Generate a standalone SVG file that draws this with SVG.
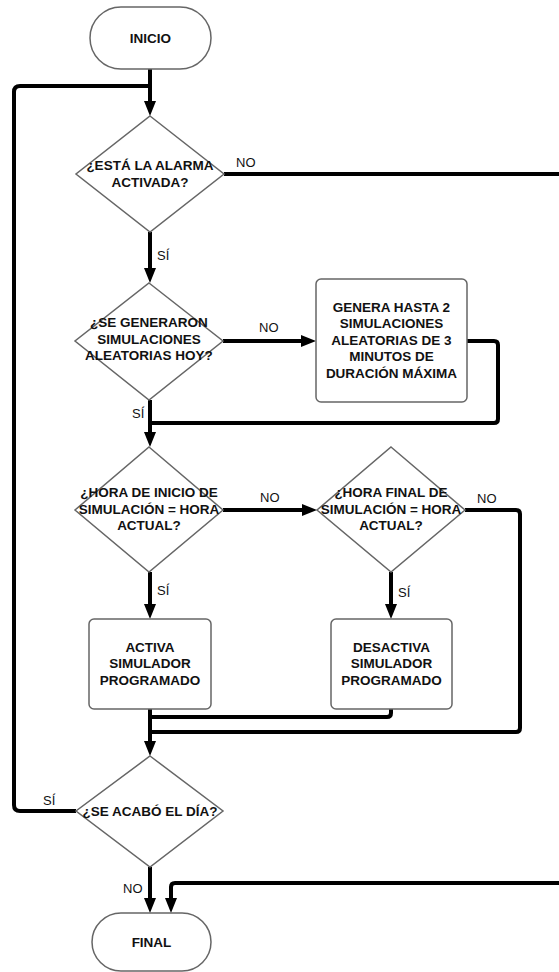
<svg xmlns="http://www.w3.org/2000/svg" width="559" height="972" viewBox="0 0 559 972">
<style>
.node{fill:#fff;stroke:#666;stroke-width:1.5}
.t{font-family:"Liberation Sans",Arial,sans-serif;font-weight:bold;font-size:13.5px;fill:#111;text-anchor:middle}
.lbl{font-family:"Liberation Sans",Arial,sans-serif;font-size:13px;fill:#111}
.c{fill:none;stroke:#000;stroke-width:4;stroke-linejoin:round}
</style>
<defs>
<marker id="arr" viewBox="0 0 15 12" refX="9" refY="6" markerWidth="15" markerHeight="12" markerUnits="userSpaceOnUse" orient="auto">
<path d="M0,0 L15,6 L0,12 Z" fill="#000"/>
</marker>
</defs>
<rect width="559" height="972" fill="#fff"/>
<g id="connectors">
<path class="c" d="M150,69 V110" marker-end="url(#arr)"/>
<path class="c" d="M76,811 H20 Q14,811 14,805 V92 Q14,86 20,86 H150"/>
<path class="c" d="M224,174 H565"/>
<path class="c" d="M150,232 V277" marker-end="url(#arr)"/>
<path class="c" d="M223,341 H310" marker-end="url(#arr)"/>
<path class="c" d="M467,341 H494 Q498,341 498,345 V419 Q498,423 494,423 H150"/>
<path class="c" d="M150,400 V441" marker-end="url(#arr)"/>
<path class="c" d="M223,510 H311" marker-end="url(#arr)"/>
<path class="c" d="M150,572 V613" marker-end="url(#arr)"/>
<path class="c" d="M391,572 V613" marker-end="url(#arr)"/>
<path class="c" d="M465,510 H516 Q520,510 520,514 V728 Q520,732 516,732 H150"/>
<path class="c" d="M391,709 V713 Q391,717 387,717 H150"/>
<path class="c" d="M150,709 V750" marker-end="url(#arr)"/>
<path class="c" d="M150,867 V907" marker-end="url(#arr)"/>
<path class="c" d="M565,883 H175 Q171,883 171,887 V907" marker-end="url(#arr)"/>
<text class="lbl" x="236" y="166.5">NO</text>
<text class="lbl" x="157" y="259.5">SÍ</text>
<text class="lbl" x="259" y="331.5">NO</text>
<text class="lbl" x="132" y="417.5">SÍ</text>
<text class="lbl" x="260" y="501.5">NO</text>
<text class="lbl" x="477" y="502.5">NO</text>
<text class="lbl" x="157" y="594.5">SÍ</text>
<text class="lbl" x="398" y="596.5">SÍ</text>
<text class="lbl" x="43" y="804.5">SÍ</text>
<text class="lbl" x="123" y="892.5">NO</text>
</g>
<g id="inicio">
<rect class="node" x="90" y="7" width="121" height="62" rx="31"/>
<text class="t" x="150.5" y="42.5">INICIO</text>
</g>
<g id="d-alarma">
<polygon class="node" points="150,116 224,174 150,232 76,174"/>
<text class="t" x="150" y="169.5">¿ESTÁ LA ALARMA</text>
<text class="t" x="150" y="186.5">ACTIVADA?</text>
</g>
<g id="d-generaron">
<polygon class="node" points="149,283 223,341 149,400 75,341"/>
<text class="t" x="149" y="326.5">¿SE GENERARON</text>
<text class="t" x="149" y="343.5">SIMULACIONES</text>
<text class="t" x="149" y="360">ALEATORIAS HOY?</text>
</g>
<g id="genera">
<rect class="node" x="316" y="279" width="151" height="123" rx="5"/>
<text class="t" x="391.5" y="311.5">GENERA HASTA 2</text>
<text class="t" x="391.5" y="328">SIMULACIONES</text>
<text class="t" x="391.5" y="344.5">ALEATORIAS DE 3</text>
<text class="t" x="391.5" y="361">MINUTOS DE</text>
<text class="t" x="391.5" y="377.5">DURACIÓN MÁXIMA</text>
</g>
<g id="d-inicio">
<polygon class="node" points="149,447 223,510 149,572 75,510"/>
<text class="t" x="149" y="496.5">¿HORA DE INICIO DE</text>
<text class="t" x="149" y="513.5">SIMULACIÓN = HORA</text>
<text class="t" x="149" y="529.5">ACTUAL?</text>
</g>
<g id="d-final">
<polygon class="node" points="391,447 465,510 391,572 317,510"/>
<text class="t" x="391" y="496.5">¿HORA FINAL DE</text>
<text class="t" x="391" y="513.5">SIMULACIÓN = HORA</text>
<text class="t" x="391" y="529.5">ACTUAL?</text>
</g>
<g id="activa">
<rect class="node" x="89" y="619" width="122" height="90" rx="5"/>
<text class="t" x="150" y="651.5">ACTIVA</text>
<text class="t" x="150" y="668">SIMULADOR</text>
<text class="t" x="150" y="684.5">PROGRAMADO</text>
</g>
<g id="desactiva">
<rect class="node" x="331" y="619" width="121" height="90" rx="5"/>
<text class="t" x="391.5" y="651.5">DESACTIVA</text>
<text class="t" x="391.5" y="668">SIMULADOR</text>
<text class="t" x="391.5" y="684.5">PROGRAMADO</text>
</g>
<g id="d-dia">
<polygon class="node" points="150,756 223,811 150,867 76,811"/>
<text class="t" x="150" y="815.5">¿SE ACABÓ EL DÍA?</text>
</g>
<g id="final">
<rect class="node" x="92" y="913" width="119" height="58" rx="29"/>
<text class="t" x="151.5" y="946.5">FINAL</text>
</g>
</svg>
